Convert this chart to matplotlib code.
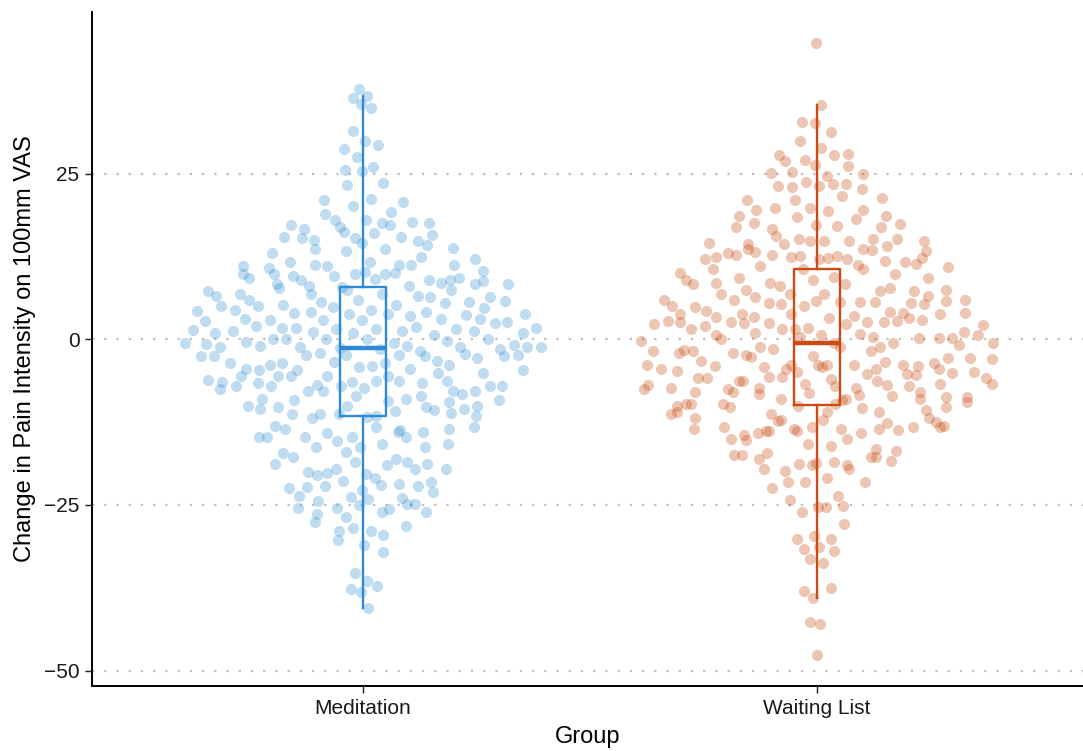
# Import packages
import numpy as np
from matplotlib import pyplot as plt

# Change in pain (100mm VAS), one value per participant
meditation = [37.8, 36.7, 36.4, 35.6, 34.9, 31.5, 30.0, 29.3, 28.7, 27.5, 26.1, 25.6, 25.4,
    23.6, 23.3, 21.2, 20.8, 21.0, 20.1, 19.2, 19.0, 18.0, 17.7, 18.0, 17.5, 17.6, 17.2, 17.0,
    17.2, 16.7, 15.3, 14.8, 15.0, 16.0, 15.8, 15.5, 16.2, 15.5, 15.3, 14.6, 14.3, 13.6, 13.6,
    13.8, 13.0, 13.4, 12.5, 11.7, 11.7,
    11.2, 11.2, 11.2, 12.1, 11.1, 11.1, 11.2, 10.8, 9.9, 8.9, 9.6, 9.8, 8.8, 9.9, 9.5, 9.0,
    9.9, 10.1, 9.3, 9.0, 10.0, 10.3, 9.2, 7.9, 8.5, 8.4, 9.1, 8.4, 8.1, 8.1, 8.3, 7.3, 6.8,
    6.6, 6.8, 7.5, 7.4, 7.7, 6.8, 6.4, 6.6, 5.7, 6.4, 5.9, 5.9, 5.6, 5.2, 5.2, 5.8, 5.1, 4.9,
    5.5, 5.0, 4.5, 4.8, 4.0, 3.6, 3.9, 4.3, 4.1, 4.1, 4.5, 3.9, 3.7, 2.9, 3.8, 2.6, 2.8, 3.0,
    3.1, 3.1, 3.0, 3.1, 1.7, 1.2, 1.0, 1.0, 1.5, 1.5, 2.0, 1.5, 2.4, 1.7, 1.8, 1.7, 1.4, 1.1,
    0.7, 1.2, 1.0, 1.3, 0.0, -0.6, -0.9, -0.7, 0.1, -0.2, -0.4, 0.1, 0.0, 0.0, -1.0, -1.1,
    -1.2, -1.3, -1.1, -1.0, -1.5, -1.4, -1.2, -1.7, -1.1, -0.6,
    -2.3, -2.5, -3.6, -2.3, -2.2, -3.8, -3.6, -2.5, -2.5, -2.0, -3.3, -4.4, -4.1, -2.8, -3.5,
    -2.3, -2.4, -2.5, -3.4, -3.8, -4.6, -4.0, -5.1, -4.6, -4.4, -4.6, -6.1, -6.9, -6.6, -5.5,
    -6.5, -7.8, -5.5, -5.6, -7.1, -6.5, -5.6, -5.0, -6.6, -7.3, -8.3, -5.6, -6.3, -7.0, -7.0,
    -7.1, -6.3, -7.0, -6.3, -7.8, -7.8, -9.0, -9.2, -7.5, -7.8, -8.6, -9.0, -8.6, -9.5, -9.1,
    -9.3, -10.0, -10.1, -11.2, -10.2, -10.2, -11.7, -11.1, -11.8, -10.8, -11.6, -10.5, -10.1,
    -10.6, -11.3, -11.6, -10.5, -11.2, -14.0, -13.3, -14.7, -14.1, -13.7, -13.0, -14.7, -14.0,
    -14.7, -13.2, -13.6, -14.8, -15.3, -14.8, -13.5,
    -16.2, -16.2, -16.3, -15.8, -15.8, -17.2, -17.0, -18.5, -20.0, -20.3, -18.8, -20.1, -19.0,
    -19.5, -18.8, -19.5, -18.1, -17.8, -18.5, -19.5, -20.4, -20.9, -21.5, -22.4, -21.4, -21.9,
    -22.3, -22.7, -22.1, -22.2, -22.0, -23.1, -23.7, -23.8, -23.9, -24.4, -24.1, -24.9, -25.5,
    -26.1, -26.0, -25.5, -26.8, -25.6, -26.4, -25.0, -24.9, -28.9, -28.9, -28.2, -27.6, -28.4,
    -29.6, -30.3, -31.1, -32.1, -35.3, -36.5, -37.2, -37.7, -38.1, -40.5]

waiting_list = [44.8, 35.4, 32.8, 32.7, 31.3,
    30.0, 28.9, 28.0, 27.8, 27.1, 27.9, 26.9, 26.4, 26.2, 25.3, 24.6, 25.0, 25.1, 23.8, 23.5,
    23.1, 23.2, 22.7, 23.0, 23.4, 21.4, 21.1, 21.1, 21.6, 19.5, 19.8, 19.6, 19.8, 19.4, 18.6,
    18.6, 18.5, 18.1, 17.6, 17.2, 16.9, 16.7, 17.1, 17.4, 16.9,
    15.2, 15.1, 14.4, 14.9, 15.1, 15.6, 14.8, 14.8, 14.5, 14.4, 13.7, 13.1, 14.9, 14.1, 13.2,
    12.6, 12.3, 12.1, 12.5, 13.5, 12.8, 12.1, 11.7, 11.1, 12.2, 13.3, 12.4, 12.6, 11.9, 13.6,
    12.3, 11.4, 12.7, 11.2, 10.9, 10.0, 8.5, 10.7, 10.6, 10.7, 9.8, 9.3, 9.4, 9.3, 9.0, 8.0,
    7.3, 8.5, 9.0, 7.3, 7.5, 8.3, 7.5, 8.3, 6.9, 7.8, 6.8, 6.8, 6.5, 6.4, 5.7, 5.9, 5.9, 5.5,
    5.7, 4.9, 5.1, 5.5, 5.9, 5.7, 5.8, 5.0, 5.4, 4.2, 4.3, 5.8, 5.4, 3.8, 3.5, 4.0, 3.8, 3.9,
    4.0, 3.4, 3.2, 3.9, 3.4,
    2.7, 2.2, 2.3, 2.5, 2.6, 1.6, 1.7, 3.0, 2.7, 2.3, 1.1, 2.8, 1.5, 2.8, 2.0, 0.7, 0.2, 2.5,
    0.8, 0.7, 2.6, 1.6, 3.2, 0.6, -0.5, 0.2, 1.0, 0.3, -0.6, -0.3, -1.2, -1.1, -2.0, 0.3, 0.2,
    0.1, -1.2, -0.8, -1.7, -1.5, -0.6, -1.7, -2.5, -3.5, -2.0, -3.9, -4.9, -7.4, -4.4, -5.2,
    -5.8, -3.9, -2.8, -2.4, -5.2, -5.9, -6.9, -4.1, -3.4, -1.6, -6.8, -7.9, -7.5, -9.2, -10.2,
    -10.1, -9.0, -8.6, -5.8, -3.8, -4.4, -6.3, -7.4, -8.7, -9.7, -3.9, -7.0, -9.8, -6.0, -5.0,
    -2.6, -1.7, -3.0, -3.9, -5.7, -6.9, -7.9, -8.1, -9.0, -7.9, -9.0, -2.8, -4.4, -5.7, -3.9,
    -3.3, -4.2, -6.8, -6.3, -8.4, -9.4, -9.8, -10.1, -5.4, -4.0, -7.0, -8.7, -8.3, -4.5, -6.8,
    -7.5, -7.4, -6.3, -4.8, -4.9, -4.0, -10.2, -9.7,
    -11.9, -10.9, -12.2, -10.9, -13.2, -13.2, -13.7, -14.2, -13.6, -12.4, -11.9, -13.6, -13.6,
    -15.2, -12.2, -10.7, -13.9, -15.1, -13.2, -11.2, -11.3, -14.2, -15.1, -15.8, -16.5, -17.2,
    -16.1, -16.8, -17.4, -18.8, -19.6, -18.1, -18.6, -17.7, -19.8, -18.5, -18.3, -17.5, -13.9,
    -12.6, -14.4, -10.9, -13.3, -13.8, -10.4, -13.1, -13.5, -12.3, -18.9, -19.5, -18.9, -17.7,
    -21.5, -20.9, -21.6, -22.4, -21.6, -23.6,
    -24.3, -25.3, -25.1, -26.0, -25.3, -27.8, -30.1, -29.7, -30.1, -31.6, -31.3, -31.9, -33.1,
    -33.7, -37.6, -38.0, -39.1, -43.0, -42.7, -47.7]

groups = ["Meditation", "Waiting List"]
y_ticks = [-50, -25, 0, 25]

point_colors = ["#2D8DD0", "#C64105"]
line_colors = ["#2C8AD6", "#CC4A14"]

plt.rcParams["font.family"] = ["Liberation Sans", "DejaVu Sans"]


def van_der_corput(n, base=2):
    # low-discrepancy sequence in (0, 1)
    out = []
    for i in range(1, n + 1):
        q, denom, k = 0.0, 1.0, i
        while k:
            denom *= base
            k, r = divmod(k, base)
            q += r / denom
        out.append(q)
    return np.array(out)


def quasirandom_offsets(y, width=0.4):
    # quasirandom layout: vdc offsets in data order, scaled by the kernel density
    y = np.asarray(y)
    n = len(y)
    iqr = np.subtract(*np.percentile(y, [75, 25]))
    bw = 0.9 * min(np.std(y, ddof=1), iqr / 1.34) * n ** -0.2
    grid = np.linspace(y.min() - 3 * bw, y.max() + 3 * bw, 1024)
    dens = lambda v: np.exp(-0.5 * ((v[:, None] - y[None, :]) / bw) ** 2).sum(axis=1)
    d_y = dens(y) / dens(grid).max()
    offs = van_der_corput(n, base=3)
    return (offs - 0.5) * 2 * d_y * width


fig = plt.figure(figsize=(10.83, 7.51), dpi=100)
ax = fig.add_axes([92 / 1083, 65 / 751, 991 / 1083, 674 / 751])

# Dotted reference lines
for yt in y_ticks:
    ax.axhline(yt, color="#BEBEBE", linestyle=(0, (1, 4.5)), linewidth=1.6, zorder=0)

# Points
for i, vals in enumerate([meditation, waiting_list]):
    xs = i + 1 + quasirandom_offsets(vals)
    ax.scatter(xs, vals, s=64, color=point_colors[i], alpha=0.3, linewidths=0, zorder=2)

# Boxplots without outliers
for i, vals in enumerate([meditation, waiting_list]):
    c = line_colors[i]
    ax.boxplot([vals], positions=[i + 1], widths=0.1, whis=1.5, showfliers=False,
               showcaps=False, patch_artist=False, manage_ticks=False,
               boxprops=dict(color=c, linewidth=1.7),
               whiskerprops=dict(color=c, linewidth=1.7),
               medianprops=dict(color=c, linewidth=3.2, solid_capstyle="butt"),
               zorder=3)

all_vals = meditation + waiting_list
pad = (max(all_vals) - min(all_vals)) * 0.05
ax.set_ylim(min(all_vals) - pad, max(all_vals) + pad)
ax.set_xlim(0.403, 2.586)

ax.set_yticks(y_ticks)
ax.set_yticklabels(["\u2212" + str(abs(v)) if v < 0 else str(v) for v in y_ticks])
ax.set_xticks([1, 2])
ax.set_xticklabels(groups)
ax.tick_params(labelsize=15, colors="#1a1a1a", length=5, width=1.0, pad=4)

for side in ["top", "right"]:
    ax.spines[side].set_visible(False)
for side in ["left", "bottom"]:
    ax.spines[side].set_linewidth(1.4)
    ax.spines[side].set_color("black")

ax.set_xlabel("Group", fontsize=17, labelpad=6)
ax.set_ylabel("Change in Pain Intensity on 100mm VAS", fontsize=17, labelpad=6)

fig.savefig("out.png", dpi=100)
